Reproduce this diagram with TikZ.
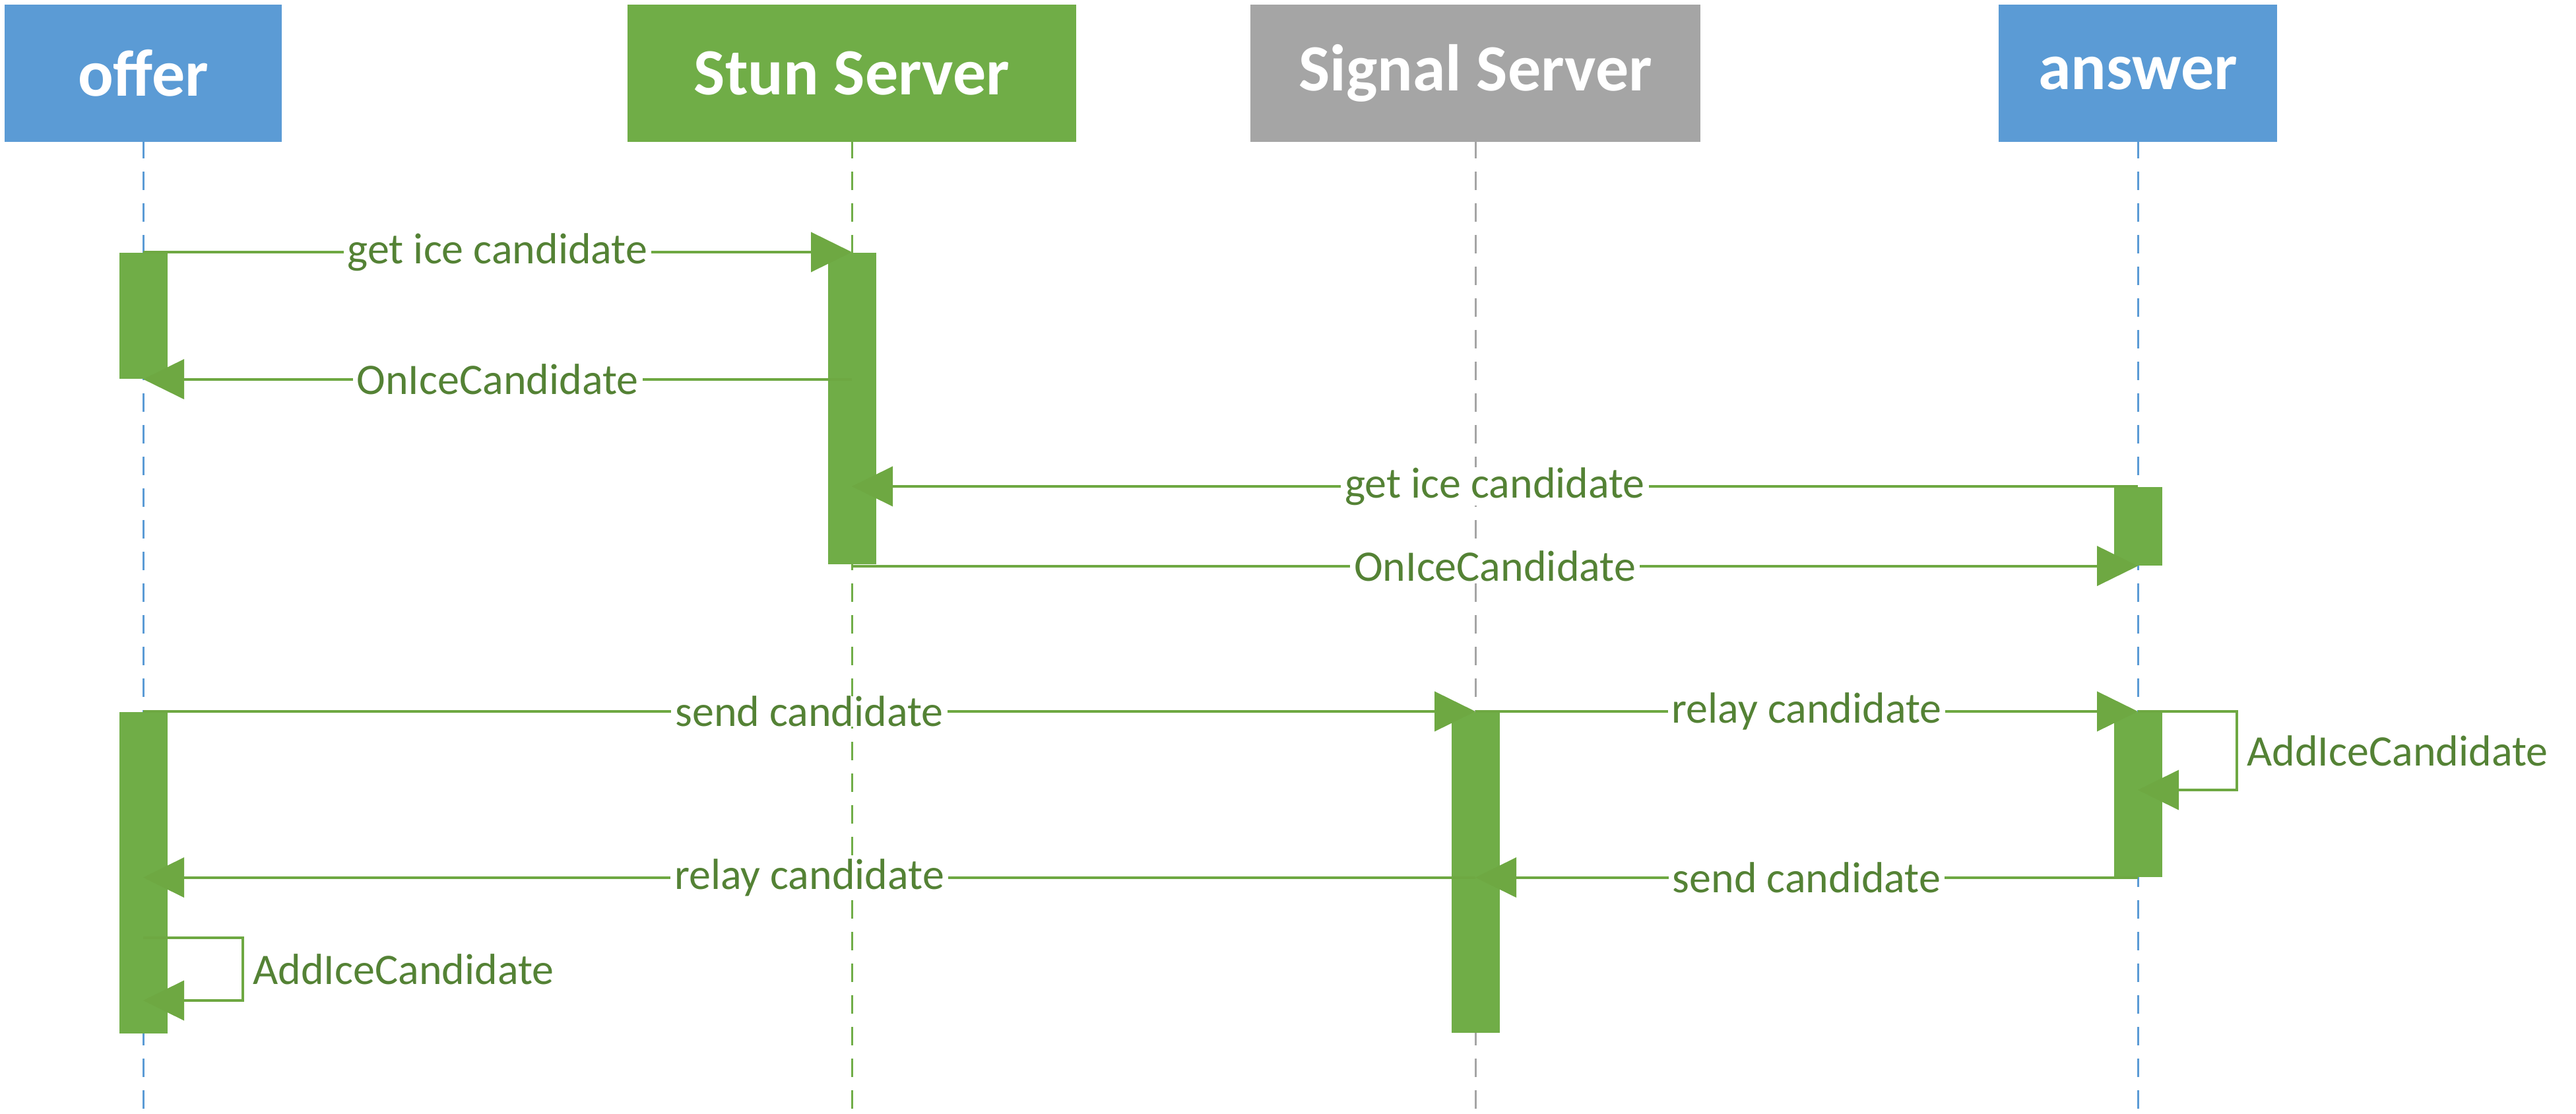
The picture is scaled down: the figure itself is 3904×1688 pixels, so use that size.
\documentclass[tikz,border=0pt]{standalone}
\usepackage{fontspec}
\setmainfont{Carlito}
\usetikzlibrary{arrows.meta}

\definecolor{hdrblue}{RGB}{91,155,213}
\definecolor{hdrgreen}{RGB}{112,173,71}
\definecolor{hdrgray}{RGB}{165,165,165}
\definecolor{msggreen}{RGB}{110,168,66}
\definecolor{txtgreen}{RGB}{84,130,53}

\tikzset{
  header/.style={fill=#1, text=white, font=\fontsize{25}{30}\selectfont\bfseries, minimum height=52pt, inner sep=0pt},
  lifeline/.style={draw=#1, line width=0.75pt, dash pattern=on 7pt off 5pt},
  actbar/.style={fill=hdrgreen, minimum width=18.25pt, inner sep=0pt, anchor=north},
  msg/.style={draw=msggreen, line width=1pt, -{Triangle[length=15.5pt,width=15pt]}},
  lbl/.style={fill=white, text=txtgreen, font=\fontsize{16.5}{20}\selectfont, inner xsep=1.5pt, inner ysep=0pt},
  selflbl/.style={text=txtgreen, font=\fontsize{16.5}{20}\selectfont, anchor=west}
}

\begin{document}
\begin{tikzpicture}[x=0.25pt,y=0.25pt,yscale=-1,xscale=1]
\useasboundingbox (0,0) rectangle (3904,1688);

%Headers
\node[header=hdrblue, minimum width=105pt] (offer) at (217,111) {offer};
\node[header=hdrgreen, minimum width=170pt] (stun) at (1291,111) {Stun Server};
\node[header=hdrgray, minimum width=170.5pt] (signal) at (2236,111) {Signal Server};
\node[header=hdrblue, minimum width=105.5pt] (answer) at (3240,111) {answer};

%Lifelines
\draw[lifeline=hdrblue] ([yshift=-1pt]offer.south) -- (offer |- 0,1688);
\draw[lifeline=hdrgreen] ([yshift=-1pt]stun.south) -- (stun |- 0,1688);
\draw[lifeline=hdrgray] ([yshift=-1pt]signal.south) -- (signal |- 0,1688);
\draw[lifeline=hdrblue] ([yshift=-1pt]answer.south) -- (answer |- 0,1688);

%Activation bars
\node[actbar, minimum height=47.75pt] (ob1) at (offer |- 0,382) {};
\node[actbar, minimum height=118pt] (sb1) at (stun |- 0,382) {};
\node[actbar, minimum height=29.75pt] (ab1) at (answer |- 0,737) {};
\node[actbar, minimum height=121.75pt] (ob2) at (offer |- 0,1078) {};
\node[actbar, minimum height=121.5pt] (gb2) at (signal |- 0,1078) {};
\node[actbar, minimum height=62.5pt] (ab2) at (answer |- 0,1078) {};

%Messages
\draw[msg] (offer |- ob1.north) -- node[lbl] {get ice candidate} (stun |- ob1.north);
\draw[msg] (stun |- ob1.south) -- node[lbl] {OnIceCandidate} (offer |- ob1.south);
\draw[msg] (answer |- ab1.north) -- node[lbl] {get ice candidate} (stun |- ab1.north);
\draw[msg] (stun |- ab1.south) -- node[lbl] {OnIceCandidate} (answer |- ab1.south);

\draw[msg] (offer |- ob2.north) -- node[lbl] {send candidate} (signal |- ob2.north);
\draw[msg] (signal |- gb2.north) -- node[lbl] {relay candidate} (answer |- gb2.north);
\draw[msg] (answer |- ab2.south) -- node[lbl] {send candidate} (signal |- ab2.south);
\draw[msg] (signal |- ab2.south) -- node[lbl] {relay candidate} (offer |- ab2.south);

%Self calls
\draw[msg] (answer |- ab2.north) -- ++(150,0) -- node[selflbl] {AddIceCandidate} ++(0,119) -- (answer |- 0,1197);
\draw[msg] (offer |- 0,1421) -- ++(151,0) -- node[selflbl] {AddIceCandidate} ++(0,95) -- (offer |- 0,1516);

\end{tikzpicture}
\end{document}
